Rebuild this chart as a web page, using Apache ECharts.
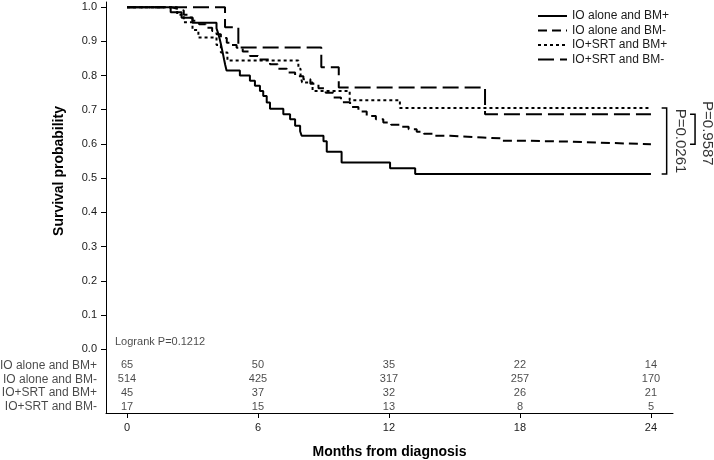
<!DOCTYPE html>
<html>
<head>
<meta charset="utf-8">
<script src="https://cdn.jsdelivr.net/npm/echarts@6/dist/echarts.min.js"></script>
<style>
html,body{margin:0;padding:0;background:#fff;}
#main{width:714px;height:460px;}
</style>
</head>
<body>
<div id="main"></div>
<script>
// Kaplan-Meier step points [month, survival]
var ioBmPos = [[0,1],[2.0,0.985],[2.5,0.969],[3.0,0.954],[4.1,0.938],[4.18,0.923],[4.24,0.908],[4.3,0.892],[4.35,0.877],[4.4,0.862],[4.45,0.846],[4.5,0.831],[4.56,0.815],
    [5.17,0.8],[5.63,0.785],[5.86,0.77],[6.09,0.755],[6.24,0.74],[6.4,0.721],[6.55,0.703],[7.16,0.687],[7.47,0.672],[7.7,0.653],[7.93,0.637],[8.0,0.624],
    [9.0,0.608],[9.15,0.577],[9.83,0.546],[12.05,0.529],[13.2,0.512],[24,0.512]];
var ioBmNeg = [[0,1],[2.0,0.995],[2.3,0.99],[2.6,0.978],[2.8,0.97],[3.0,0.96],[3.3,0.95],[3.6,0.94],[3.9,0.93],[4.1,0.921],[4.3,0.91],[4.57,0.896],[4.8,0.889],
    [5.02,0.881],[5.3,0.87],[5.63,0.857],[6.0,0.847],[6.55,0.833],[6.9,0.82],[7.32,0.809],[7.7,0.798],[8.08,0.789],[8.4,0.776],[8.77,0.763],[9.1,0.75],
    [9.45,0.736],[9.8,0.722],[10.22,0.708],[10.6,0.695],[10.98,0.682],[11.4,0.672],[11.74,0.663],[12.1,0.656],[12.5,0.65],[12.9,0.643],[13.27,0.636],
    [13.6,0.63],[14.03,0.624],[14.8,0.619],[16.3,0.616],[17.2,0.609],[18.5,0.607],[20.1,0.604],[21.6,0.599],[24,0.599]];
var srtBmPos = [[0,1],[2.3,0.978],[2.6,0.956],[3.0,0.933],[3.27,0.911],[4.1,0.889],[4.3,0.867],[4.6,0.844],[7.85,0.82],[7.95,0.8],[8.02,0.78],[8.5,0.755],
    [10.2,0.728],[12.5,0.705],[24,0.705]];
var srtBmNeg = [[0,1],[4.49,0.941],[5.1,0.882],[8.9,0.824],[9.7,0.765],[16.4,0.687],[24,0.687]];

var seriesNames = ['IO alone and BM+', 'IO alone and BM-', 'IO+SRT and BM+', 'IO+SRT and BM-'];
var dashes = ['solid', [9, 5], [3, 3], [16, 6]];

// numbers at risk
var riskMonths = [0, 6, 12, 18, 24];
var riskIoBmPos = [65, 50, 35, 22, 14];
var riskIoBmNeg = [514, 425, 317, 257, 170];
var riskSrtBmPos = [45, 37, 32, 26, 21];
var riskSrtBmNeg = [17, 15, 13, 8, 5];

var yTicks = [0, 0.1, 0.2, 0.3, 0.4, 0.5, 0.6, 0.7, 0.8, 0.9, 1.0];
var pOuter = 'P=0.0261';
var pInner = 'P=0.9587';
var logrank = 'Logrank P=0.1212';

var chart = echarts.init(document.getElementById('main'));
var curves = [ioBmPos, ioBmNeg, srtBmPos, srtBmNeg];
var risks = [riskIoBmPos, riskIoBmNeg, riskSrtBmPos, riskSrtBmNeg];
var xMin = -0.962, xMax = 25.01;
var txt = '#1a1a1a';
var font = 'Liberation Sans, Arial, sans-serif';

function last(a){ return a[a.length - 1][1]; }

var series = [];
curves.forEach(function(c, i){
    series.push({
        name: seriesNames[i], type: 'line', step: 'end', data: c,
        symbol: 'none', silent: true, animation: false,
        lineStyle: {color: '#000', width: 2, type: dashes[i]},
        itemStyle: {color: '#000'}
    });
});

// number-at-risk rows
risks.forEach(function(r, i){
    var rowY = -0.047 - i * 0.0408;
    series.push({
        type: 'scatter', symbolSize: 0, silent: true, animation: false, clip: false,
        data: riskMonths.map(function(m, k){ return [m, rowY, r[k]]; }),
        label: {show: true, position: 'inside', color: txt, fontSize: 11, fontFamily: font,
            formatter: function(p){ return p.value[2]; }}
    });
    series.push({
        type: 'scatter', symbolSize: 0, silent: true, animation: false, clip: false,
        data: [[xMin, rowY]],
        label: {show: true, position: 'left', distance: 9, color: txt, fontSize: 12, fontFamily: font,
            formatter: seriesNames[i]}
    });
});

// brackets joining the curve ends that were compared
var outerTop = last(srtBmPos), outerBot = last(ioBmPos);
var innerTop = last(srtBmNeg), innerBot = last(ioBmNeg);
var brackets = [[24.49, 24.72, outerTop, outerBot], [25.79, 26.02, innerTop, innerBot]];
series.push({
    type: 'custom', silent: true, animation: false, clip: false,
    data: brackets,
    renderItem: function(params, api){
        var a = api.coord([api.value(0), api.value(2)]);
        var b = api.coord([api.value(1), api.value(2)]);
        var c = api.coord([api.value(1), api.value(3)]);
        var d = api.coord([api.value(0), api.value(3)]);
        return {type: 'polyline', shape: {points: [a, b, c, d]},
            style: {stroke: '#000', lineWidth: 1.5, fill: null}};
    }
});
series.push({
    type: 'scatter', symbolSize: 0, silent: true, animation: false, clip: false,
    data: [[25.34, (outerTop + outerBot) / 2, pOuter], [26.57, (innerTop + innerBot) / 2 - 0.012, pInner]],
    label: {show: true, position: 'inside', rotate: -90, color: '#000', fontSize: 15, fontFamily: font,
        formatter: function(p){ return p.value[2]; }}
});
series.push({
    type: 'scatter', symbolSize: 0, silent: true, animation: false, clip: false,
    data: [[-0.55, 0.02]],
    label: {show: true, position: 'right', distance: 0, color: txt, fontSize: 11, fontFamily: font, formatter: logrank}
});

var option = {
    animation: false,
    textStyle: {fontFamily: font},
    grid: {left: 106, right: 41, top: 2, bottom: 47, outerBoundsMode: 'none', containLabel: false},
    legend: {
        data: seriesNames, orient: 'vertical', left: 532, top: 5,
        itemWidth: 29, itemHeight: 10, itemGap: 2.5,
        itemStyle: {opacity: 0},
        textStyle: {color: txt, fontSize: 12, fontFamily: font}
    },
    xAxis: {
        type: 'value', min: xMin, max: xMax,
        name: 'Months from diagnosis', nameLocation: 'middle', nameGap: 32,
        nameTextStyle: {color: '#000', fontSize: 14, fontWeight: 'bold', fontFamily: font},
        axisLine: {onZero: false, lineStyle: {color: '#000', width: 1}},
        axisTick: {customValues: riskMonths, length: 5, lineStyle: {color: '#000'}},
        axisLabel: {customValues: riskMonths, color: txt, fontSize: 11, margin: 9},
        splitLine: {show: false}
    },
    yAxis: {
        type: 'value', min: -0.1866, max: 1.015,
        axisLine: {show: true, onZero: false, lineStyle: {color: '#000', width: 1}},
        axisTick: {show: true, customValues: yTicks, length: 5, lineStyle: {color: '#000'}},
        axisLabel: {customValues: yTicks, color: txt, fontSize: 11, margin: 9,
            formatter: function(v){ return v.toFixed(1); }},
        splitLine: {show: false}
    },
    graphic: [{
        type: 'text', x: 59, y: 171, rotation: Math.PI / 2,
        style: {text: 'Survival probability', fill: '#000', font: 'bold 14px ' + font,
            textAlign: 'center', textVerticalAlign: 'middle'}
    }],
    series: series
};
chart.setOption(option);
</script>
</body>
</html>
